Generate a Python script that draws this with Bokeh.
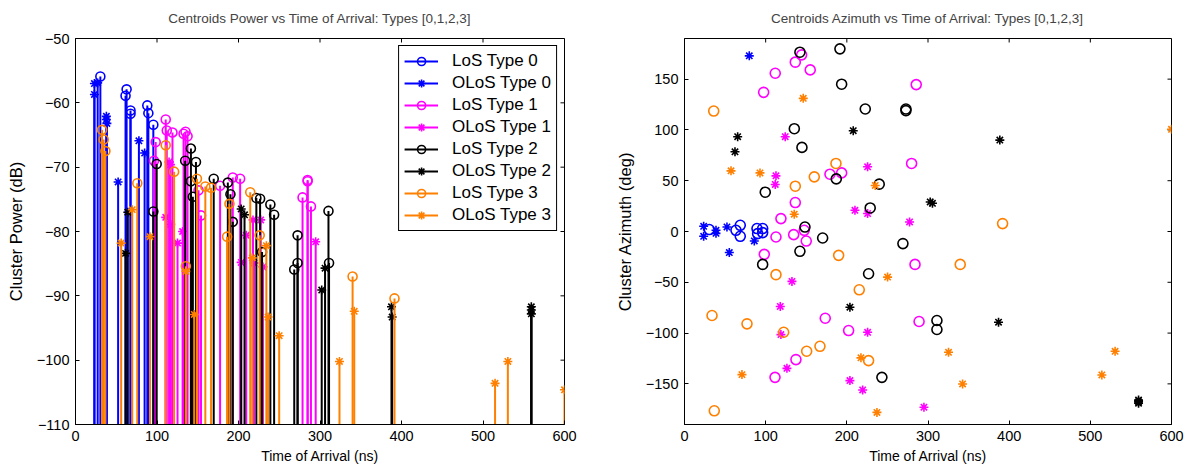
import math
from bokeh.plotting import figure
from bokeh.models import Range1d, FixedTicker, Legend, LegendItem, ColumnDataSource
from bokeh.layouts import row
from bokeh.embed import file_html
from bokeh.resources import INLINE

FONT = "Liberation Sans"

# ---------------- data ----------------
x_ticks = [0, 100, 200, 300, 400, 500, 600]
pow_ticks = [-110, -100, -90, -80, -70, -60, -50]
az_ticks = [-150, -100, -50, 0, 50, 100, 150]

series_names = ["LoS Type 0", "OLoS Type 0", "LoS Type 1", "OLoS Type 1",
                "LoS Type 2", "OLoS Type 2", "LoS Type 3", "OLoS Type 3"]
series_colors = ["#0000ff", "#0000ff", "#ff00ff", "#ff00ff",
                 "#000000", "#000000", "#ff8000", "#ff8000"]

# power panel (time of arrival ns, power dB)
los0_pow_toa = [30.5, 61.4, 62.7, 67.5, 67.5, 88.1, 89.4, 95.5]
los0_pow_db = [-55.9, -58.9, -57.9, -61.7, -61.2, -60.4, -61.6, -63.4]
olos0_pow_toa = [23.2, 23.2, 27.2, 37.9, 37.9, 38.5, 52.3, 77.8, 84.8]
olos0_pow_db = [-57.0, -58.7, -56.9, -62.1, -62.6, -63.2, -72.3, -65.9, -67.8]
los1_pow_toa = [96.3, 98.4, 110.7, 112.0, 119.0, 132.6, 135.0, 137.5, 151.0, 154.0,
                177.4, 193.0, 202.0, 278.6, 284.8, 284.8, 288.9]
los1_pow_db = [-69.0, -66.1, -62.6, -64.3, -64.6, -64.8, -64.5, -65.2, -73.6, -77.5,
               -72.9, -71.6, -71.8, -74.7, -72.0, -72.2, -76.1]
olos1_pow_toa = [110.7, 114.8, 116.5, 116.9, 125.2, 131.4, 203.3, 209.5, 217.8, 219.0,
                 227.2, 230.0, 294.7]
olos1_pow_db = [-77.8, -69.2, -69.6, -78.9, -81.8, -80.0, -84.8, -80.6, -78.2, -84.9,
                -78.2, -85.5, -81.6]
los2_pow_toa = [95.5, 99.6, 134.6, 141.6, 141.6, 144.0, 147.8, 169.6, 186.9, 190.1,
                193.0, 221.9, 226.5, 228.9, 239.1, 243.7, 268.4, 272.5, 272.5, 310.4, 311.1]
los2_pow_db = [-76.9, -69.5, -69.0, -67.1, -72.2, -74.6, -69.2, -71.8, -72.4, -74.2,
               -78.5, -74.8, -74.9, -83.2, -75.8, -77.4, -85.9, -80.6, -84.9, -76.8, -84.9]
olos2_pow_toa = [61.4, 64.2, 203.3, 207.4, 302.1, 306.2, 387.7, 388.5, 559.3, 559.3, 559.3]
olos2_pow_db = [-83.4, -77.0, -76.5, -77.4, -89.1, -85.7, -91.7, -93.3, -91.7, -92.2, -92.8]
los3_pow_toa = [32.6, 34.6, 36.7, 75.8, 110.7, 121.0, 135.4, 149.0, 159.3, 166.3,
                186.0, 188.9, 214.4, 226.0, 340.0, 391.4]
los3_pow_db = [-64.2, -65.7, -67.5, -72.5, -66.6, -70.7, -85.4, -71.8, -73.0, -73.2,
               -80.8, -75.7, -73.9, -80.6, -87.0, -90.4]
olos3_pow_toa = [56.0, 69.6, 91.4, 135.4, 145.7, 216.9, 234.2, 236.3, 249.9, 323.9,
                 342.0, 514.8, 530.5, 600.0]
olos3_pow_db = [-81.8, -76.6, -80.8, -86.2, -92.9, -84.1, -82.2, -93.3, -96.2, -100.2,
                -92.4, -103.6, -100.2, -104.6]

# azimuth panel (time of arrival ns, azimuth deg)
los0_az_toa = [30.5, 63.4, 68.7, 68.7, 89.3, 96.3, 90.1, 96.3]
los0_az_deg = [1.9, 1.2, 6.1, -4.7, 2.9, 2.9, -2.1, -1.1]
olos0_az_toa = [23.6, 23.6, 38.8, 38.8, 52.3, 55.2, 79.8, 86.0]
olos0_az_deg = [5.1, -4.7, 1.2, -1.8, 4.5, -20.7, 172.9, -9.3]
los1_az_toa = [97.5, 98.3, 111.5, 111.8, 112.7, 118.8, 134.5, 136.5, 136.5, 137.3, 144.3,
               147.5, 150.0, 154.9, 173.4, 179.2, 193.6, 202.2, 279.8, 284.0, 285.5, 289.0]
los1_az_deg = [137.0, -22.5, -143.6, 155.8, -5.4, 12.7, -3.1, 166.7, 28.5, -126.1, 173.9,
               1.2, -9.4, 159.1, -85.4, 56.4, 57.7, -97.5, 67.0, -32.4, 144.6, -88.6]
olos1_az_toa = [111.8, 112.7, 118.0, 118.8, 124.1, 126.2, 132.4, 203.8, 210.0, 219.5,
                225.6, 225.6, 225.6, 277.3, 295.0]
olos1_az_deg = [46.3, 54.8, -73.8, -101.5, 93.3, -134.7, -49.1, -146.8, 20.9, -156.0,
                63.7, 17.7, -99.2, 9.4, -173.0]
los2_az_toa = [96.3, 99.5, 135.3, 142.2, 142.2, 144.7, 148.4, 170.2, 187.0, 191.5, 193.6,
               222.7, 226.8, 228.8, 239.9, 243.2, 269.1, 272.8, 272.8, 311.0, 311.0]
los2_az_deg = [-32.4, 38.7, 101.2, 176.5, -19.5, 82.8, 4.4, -6.4, 51.8, 179.8, 145.0,
               120.6, -41.6, 23.2, 46.6, -143.6, -11.9, 120.6, 119.0, -87.6, -96.5]
olos2_az_toa = [62.2, 65.5, 203.8, 207.9, 302.7, 305.5, 386.9, 388.5, 559.4, 559.4, 559.4]
olos2_az_deg = [78.5, 93.3, -74.5, 99.2, 29.1, 27.8, -89.3, 90.0, -166.0, -167.6, -169.0]
los3_az_toa = [33.9, 36.0, 36.7, 77.0, 112.7, 122.2, 136.5, 150.5, 159.9, 166.9,
               186.6, 189.9, 215.3, 226.8, 339.7, 391.9]
los3_az_deg = [-82.7, 118.6, -176.5, -90.9, -42.5, -99.2, 44.6, -117.9, 53.8, -113.0,
               67.0, -23.5, -57.4, -127.1, -32.4, 7.8]
olos3_az_toa = [57.3, 70.8, 93.0, 135.2, 146.3, 217.4, 235.0, 237.1, 250.2, 325.3,
                342.6, 514.2, 530.5, 600.0]
olos3_az_deg = [59.7, -140.9, 57.7, 17.0, 131.1, -124.4, 45.3, -178.1, -44.9, -118.9,
                -150.1, -141.2, -117.9, 100.6]

pow_series = [(los0_pow_toa, los0_pow_db), (olos0_pow_toa, olos0_pow_db),
              (los1_pow_toa, los1_pow_db), (olos1_pow_toa, olos1_pow_db),
              (los2_pow_toa, los2_pow_db), (olos2_pow_toa, olos2_pow_db),
              (los3_pow_toa, los3_pow_db), (olos3_pow_toa, olos3_pow_db)]
az_series = [(los0_az_toa, los0_az_deg), (olos0_az_toa, olos0_az_deg),
             (los1_az_toa, los1_az_deg), (olos1_az_toa, olos1_az_deg),
             (los2_az_toa, los2_az_deg), (olos2_az_toa, olos2_az_deg),
             (los3_az_toa, los3_az_deg), (olos3_az_toa, olos3_az_deg)]

X_MIN, X_MAX = 0, 600
POW_MIN, POW_MAX = -110, -50
AZ_MIN, AZ_MAX = -190, 190


def style_axis(ax, label_size):
    ax.major_tick_in = 4
    ax.major_tick_out = 0
    ax.minor_tick_line_color = None
    ax.axis_line_color = "black"
    ax.major_tick_line_color = "black"
    ax.major_label_text_color = "black"
    ax.major_label_text_font = FONT
    ax.major_label_text_font_size = "14.5px"
    ax.major_label_standoff = 6
    ax.axis_label_text_font = FONT
    ax.axis_label_text_font_size = label_size
    ax.axis_label_text_font_style = "normal"
    ax.axis_label_text_color = "black"


def make_fig(title, ylabel, ymin, ymax, yticks, width, left, right):
    p = figure(width=width, height=471, output_backend="svg", toolbar_location=None,
               x_range=Range1d(X_MIN, X_MAX), y_range=Range1d(ymin, ymax),
               min_border_left=left, min_border_right=right,
               min_border_top=38, min_border_bottom=47)
    p.title.text = title
    p.title.align = "center"
    p.title.vertical_align = "top"
    p.title.text_font = FONT
    p.title.text_font_size = "13.5px"
    p.title.text_font_style = "normal"
    p.title.standoff = 21
    p.xgrid.grid_line_color = None
    p.ygrid.grid_line_color = None
    p.outline_line_color = "black"
    p.outline_line_alpha = 1
    p.xaxis.ticker = FixedTicker(ticks=x_ticks)
    p.yaxis.ticker = FixedTicker(ticks=yticks)
    p.xaxis.axis_label = "Time of Arrival (ns)"
    p.yaxis.axis_label = ylabel
    for ax in p.xaxis:
        style_axis(ax, "14px")
    for ax in p.yaxis:
        style_axis(ax, "16.5px")
    p.xaxis.axis_label_standoff = 4
    p.yaxis.axis_label_standoff = 9
    # mirrored inward ticks on the top and right edges of the box
    p.ray(x=x_ticks, y=[ymax] * len(x_ticks), length=4, angle=-math.pi / 2,
          length_units="screen", line_color="black", line_width=1)
    p.ray(x=[X_MAX] * len(yticks), y=yticks, length=4, angle=math.pi,
          length_units="screen", line_color="black", line_width=1)
    return p


# ---------------- left: power stem plot ----------------
p1 = make_fig("Centroids Power vs Time of Arrival: Types [0,1,2,3]", "Cluster Power (dB)",
              POW_MIN, POW_MAX, pow_ticks, 600, 75, 36)
items = []
for i, (name, col) in enumerate(zip(series_names, series_colors)):
    toa, val = pow_series[i]
    src = ColumnDataSource(dict(x=toa, y=val, y0=[POW_MIN] * len(toa)))
    seg = p1.segment(x0="x", y0="y0", x1="x", y1="y", source=src, line_color=col, line_width=2)
    if i % 2 == 0:
        mk = p1.scatter("x", "y", source=src, marker="circle", size=9, fill_color=None,
                        line_color=col, line_width=1.6)
    else:
        mk = p1.scatter("x", "y", source=src, marker="asterisk", size=9,
                        line_color=col, line_width=1.6)
    items.append(LegendItem(label=name, renderers=[seg, mk]))

leg = Legend(items=items, location="top_right")
leg.label_text_font = FONT
leg.label_text_font_size = "17px"
leg.label_text_color = "black"
leg.border_line_color = "black"
leg.border_line_width = 1
leg.border_line_alpha = 1
leg.background_fill_alpha = 1
leg.glyph_width = 34
leg.glyph_height = 20
leg.label_height = 20
leg.label_standoff = 14
leg.spacing = 2
leg.padding = 5
leg.margin = 7
p1.add_layout(leg)

# ---------------- right: azimuth scatter ----------------
p2 = make_fig("Centroids Azimuth vs Time of Arrival: Types [0,1,2,3]", "Cluster Azimuth (deg)",
              AZ_MIN, AZ_MAX, az_ticks, 590, 84, 19)
for i, col in enumerate(series_colors):
    toa, val = az_series[i]
    src = ColumnDataSource(dict(x=toa, y=val))
    if i % 2 == 0:
        p2.scatter("x", "y", source=src, marker="circle", size=10, fill_color=None,
                   line_color=col, line_width=1.6)
    else:
        p2.scatter("x", "y", source=src, marker="asterisk", size=9,
                   line_color=col, line_width=1.6)

layout = row(p1, p2)
open("out.html", "w").write(file_html(layout, INLINE))
